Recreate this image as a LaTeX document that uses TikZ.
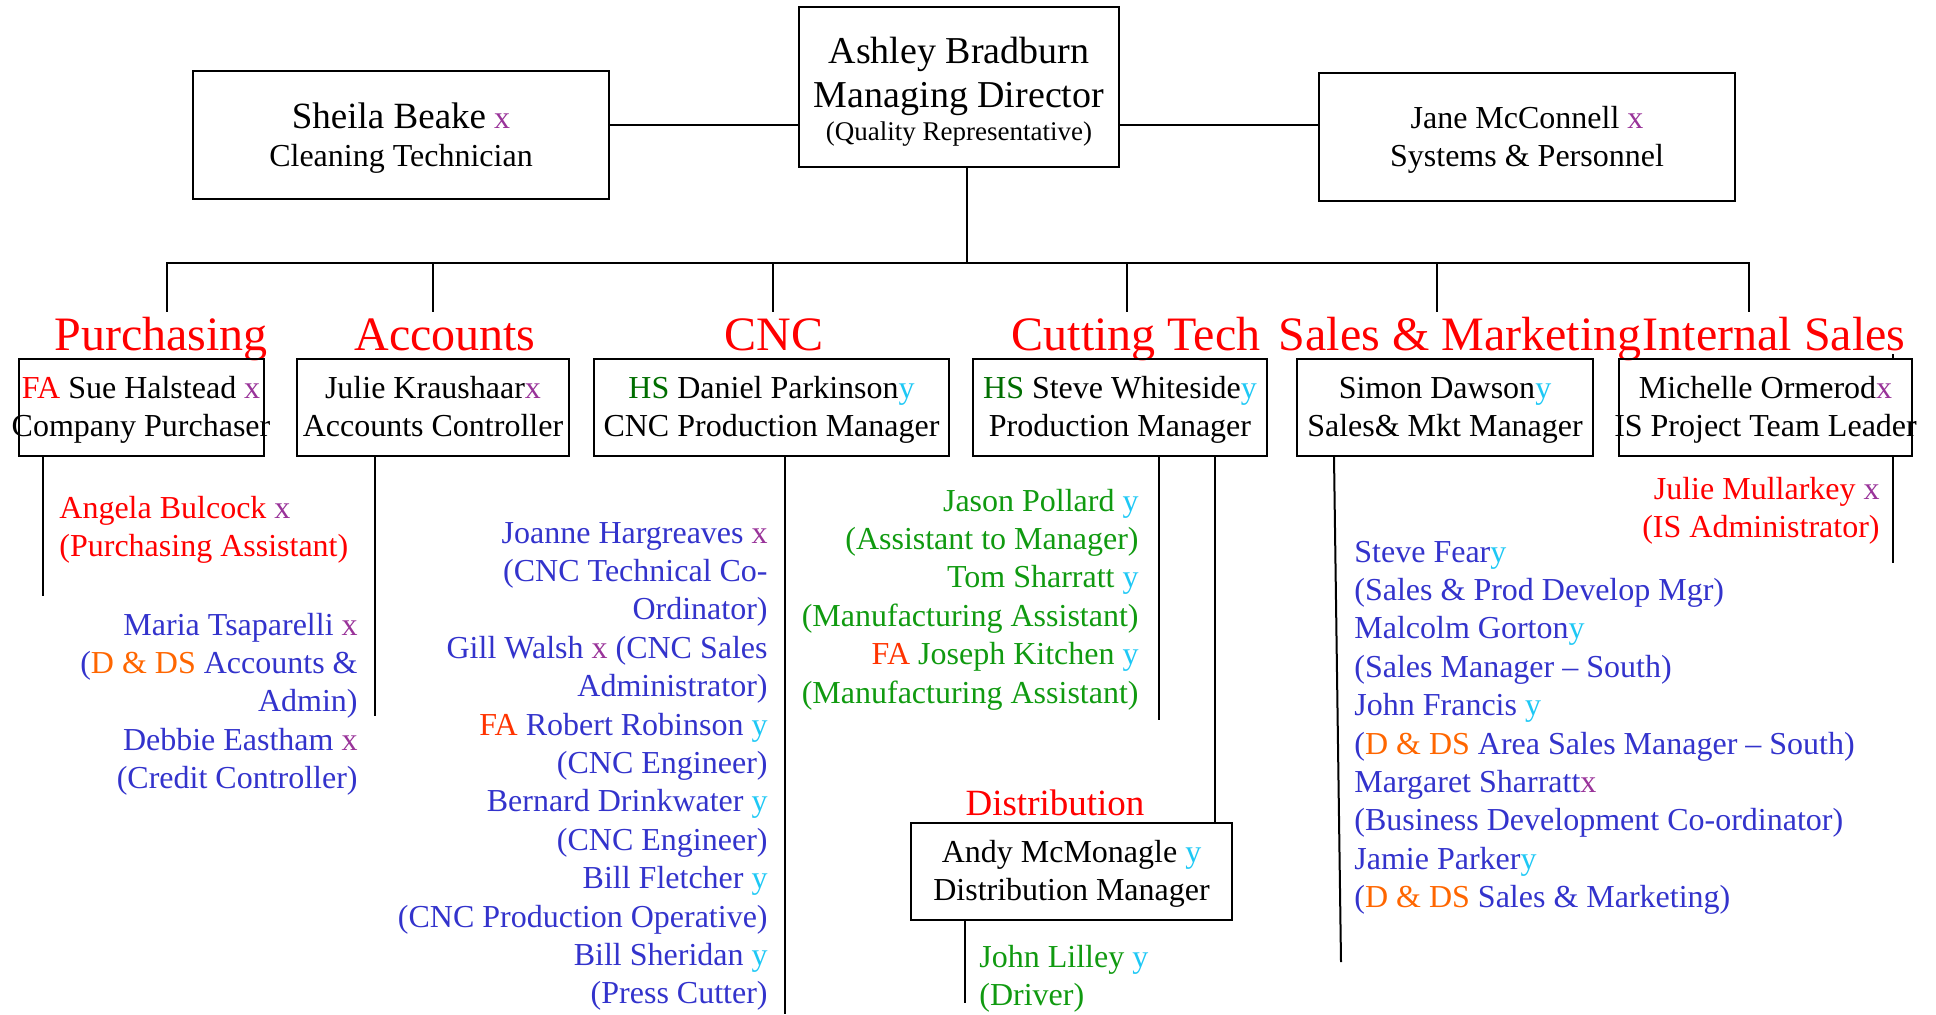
\documentclass[tikz,border=0pt]{standalone}
\usepackage{fontspec}
\setmainfont{Liberation Serif}

\definecolor{markx}{HTML}{993399}
\definecolor{marky}{HTML}{1EC8F5}
\definecolor{hsgreen}{HTML}{006E00}
\definecolor{staffgreen}{HTML}{109A10}
\definecolor{staffblue}{HTML}{3333CC}
\definecolor{ddsorange}{HTML}{FF6600}
\definecolor{fared}{HTML}{FF3300}

\newcommand{\tagx}{\textcolor{markx}{x}}
\newcommand{\tagy}{\textcolor{marky}{y}}
\newcommand{\dds}{\textcolor{ddsorange}{D \& DS}}
\newcommand{\fa}{\textcolor{fared}{FA}}

\begin{document}
\begin{tikzpicture}[x=0.5pt,y=-0.5pt,
    box/.style={draw,line width=1pt,inner sep=0pt,font=\fontsize{16}{19.2}\selectfont},
    head/.style={text=red,inner sep=0pt,anchor=base,text height=19pt,font=\fontsize{24}{28}\selectfont},
    staff/.style={inner sep=0pt,font=\fontsize{16}{19.2}\selectfont},
    link/.style={line width=1pt}]

    \useasboundingbox (0,0) rectangle (1936,1014);

    % top of the chart
    \node[box,minimum width=160pt,minimum height=80pt] (managing director) at (959,87) {%
        \makebox[0pt]{\begin{tabular}{c}
            \rule{0pt}{20.3pt}{\fontsize{19}{22}\selectfont Ashley Bradburn} \\[2.8pt]
            {\fontsize{19}{22}\selectfont Managing Director} \\[-2.7pt]
            {\fontsize{13.5}{16}\selectfont (Quality Representative)} \\
        \end{tabular}}%
    };

    \node[box,minimum width=208pt,minimum height=64pt] (sheila) at (401,135) {%
        \makebox[0pt]{\begin{tabular}{c}
            \rule{0pt}{18.3pt}{\fontsize{18.5}{22}\selectfont Sheila Beake} \tagx \\
            Cleaning Technician \\
        \end{tabular}}%
    };

    \node[box,minimum width=208pt,minimum height=64pt] (jane) at (1527,137) {%
        \makebox[0pt]{\begin{tabular}{c}
            \rule{0pt}{16.3pt}Jane McConnell \tagx \\
            Systems \& Personnel \\
        \end{tabular}}%
    };

    \draw[link] ([yshift=5pt]sheila.east) -- ([yshift=5pt]sheila.east -| managing director.west);
    \draw[link] ([yshift=6pt]jane.west) -- ([yshift=6pt]jane.west -| managing director.east);

    % departments
    \node[head] (purchasing head) at (161,350) {Purchasing};
    \node[head] (accounts head) at (445,350) {Accounts};
    \node[head] (cnc head) at (774,350) {CNC};
    \node[head] (cutting head) at (1136,350) {Cutting Tech};
    \node[head] (sales head) at (1460,350) {Sales \& Marketing};
    \node[head] (internal head) at (1774,350) {Internal Sales};

    \coordinate (bus) at (967,263);
    \draw[link] ([xshift=4pt]managing director.south) -- (bus);
    \foreach \dept/\dx in {purchasing head/3pt, accounts head/-6pt, cnc head/-0.5pt,
                           cutting head/-4.5pt, sales head/-11.5pt, internal head/-12.5pt}
        \draw[link] ([xshift=\dx]\dept.north) |- (bus);

    \node[box,minimum width=122.5pt,minimum height=48.5pt] (purchasing) at (141,407.5) {%
        \makebox[0pt]{\begin{tabular}{c}
            \rule{0pt}{15.5pt}\textcolor{red}{FA} Sue Halstead \tagx \\
            Company Purchaser \\
        \end{tabular}}%
    };

    \node[box,minimum width=136pt,minimum height=48.5pt] (accounts) at (433,407.5) {%
        \makebox[0pt]{\begin{tabular}{c}
            \rule{0pt}{15.5pt}Julie Kraushaar\tagx \\
            Accounts Controller \\
        \end{tabular}}%
    };

    \node[box,minimum width=177.5pt,minimum height=48.5pt] (cnc) at (771.5,407.5) {%
        \makebox[0pt]{\begin{tabular}{c}
            \rule{0pt}{15.5pt}\textcolor{hsgreen}{HS} Daniel Parkinson\tagy \\
            CNC Production Manager \\
        \end{tabular}}%
    };

    \node[box,minimum width=147pt,minimum height=48.5pt] (cutting tech) at (1120,407.5) {%
        \makebox[0pt]{\begin{tabular}{c}
            \rule{0pt}{15.5pt}\textcolor{hsgreen}{HS} Steve Whiteside\tagy \\
            Production Manager \\
        \end{tabular}}%
    };

    \node[box,minimum width=148pt,minimum height=48.5pt] (sales) at (1445,407.5) {%
        \makebox[0pt]{\begin{tabular}{c}
            \rule{0pt}{15.5pt}Simon Dawson\tagy \\
            Sales\& Mkt Manager \\
        \end{tabular}}%
    };

    \node[box,minimum width=146.5pt,minimum height=48.5pt] (internal sales) at (1765.5,407.5) {%
        \makebox[0pt]{\begin{tabular}{c}
            \rule{0pt}{15.5pt}Michelle Ormerod\tagx \\
            IS Project Team Leader \\
        \end{tabular}}%
    };

    % distribution under cutting tech
    \node[head,font=\fontsize{18.5}{22}\selectfont] (distribution head) at (1055,815) {Distribution};

    \node[box,minimum width=160.5pt,minimum height=48.5pt] (distribution) at (1071.5,871.5) {%
        \makebox[0pt]{\begin{tabular}{c}
            \rule{0pt}{15.5pt}Andy McMonagle \tagy \\
            Distribution Manager \\
        \end{tabular}}%
    };

    % staff lists
    \node[staff,text=red,anchor=base west] (purchasing staff) at (59,518) {%
        \begin{tabular}[t]{@{}l@{}}
            Angela Bulcock \tagx \\
            (Purchasing Assistant) \\
        \end{tabular}%
    };

    \node[staff,text=staffblue,anchor=base east] (accounts staff) at (358,635) {%
        \begin{tabular}[t]{@{}r@{}}
            Maria Tsaparelli \tagx \\
            (\dds{} Accounts \& \\
            Admin) \\
            Debbie Eastham \tagx \\
            (Credit Controller) \\
        \end{tabular}%
    };

    \node[staff,text=staffblue,anchor=base east] (cnc staff) at (768,543) {%
        \begin{tabular}[t]{@{}r@{}}
            Joanne Hargreaves \tagx \\
            (CNC Technical Co- \\
            Ordinator) \\
            Gill Walsh \tagx{} (CNC Sales \\
            Administrator) \\
            \fa{} Robert Robinson \tagy \\
            (CNC Engineer) \\
            Bernard Drinkwater \tagy \\
            (CNC Engineer) \\
            Bill Fletcher \tagy \\
            (CNC Production Operative) \\
            Bill Sheridan \tagy \\
            (Press Cutter) \\
        \end{tabular}%
    };

    \node[staff,text=staffgreen,anchor=base east] (cutting staff) at (1139,511) {%
        \begin{tabular}[t]{@{}r@{}}
            Jason Pollard \tagy \\
            (Assistant to Manager) \\
            Tom Sharratt \tagy \\
            (Manufacturing Assistant) \\
            \fa{} Joseph Kitchen \tagy \\
            (Manufacturing Assistant) \\
        \end{tabular}%
    };

    \node[staff,text=staffgreen,anchor=base west] (distribution staff) at (979,967) {%
        \begin{tabular}[t]{@{}l@{}}
            John Lilley \tagy \\
            (Driver) \\
        \end{tabular}%
    };

    \node[staff,text=staffblue,anchor=base west] (sales staff) at (1354,562) {%
        \begin{tabular}[t]{@{}l@{}}
            Steve Fear\tagy \\
            (Sales \& Prod Develop Mgr) \\
            Malcolm Gorton\tagy \\
            (Sales Manager -- South) \\
            John Francis \tagy \\
            (\dds{} Area Sales Manager -- South) \\
            Margaret Sharratt\tagx \\
            (Business Development Co-ordinator) \\
            Jamie Parker\tagy \\
            (\dds{} Sales \& Marketing) \\
        \end{tabular}%
    };

    \node[staff,text=red,anchor=base east] (internal staff) at (1880,499) {%
        \begin{tabular}[t]{@{}r@{}}
            Julie Mullarkey \tagx \\
            (IS Administrator) \\
        \end{tabular}%
    };

    % lines down the lists
    \coordinate (purchasing end) at (43,596);
    \coordinate (accounts end) at (375,716);
    \coordinate (cnc end) at (785,1014);
    \coordinate (cutting end) at (1159,720);
    \coordinate (distribution end) at (965,1003);
    \coordinate (sales end) at (1341,962);
    \coordinate (internal end) at (1893,563);
    \coordinate (internal tick) at (1893,354);

    \draw[link] (purchasing end |- purchasing.south) -- (purchasing end);
    \draw[link] (accounts end |- accounts.south) -- (accounts end);
    \draw[link] (cnc end |- cnc.south) -- (cnc end);
    \draw[link] (cutting end |- cutting tech.south) -- (cutting end);
    \draw[link] ([xshift=71.75pt]distribution.north) -- ([xshift=71.75pt]distribution.north |- cutting tech.south);
    \draw[link] (distribution end |- distribution.south) -- (distribution end);
    \draw[link] ([xshift=19pt]sales.south west) -- (sales end);
    \draw[link] (internal tick) -- (internal tick |- internal sales.north);
    \draw[link] (internal end |- internal sales.south) -- (internal end);

\end{tikzpicture}
\end{document}
